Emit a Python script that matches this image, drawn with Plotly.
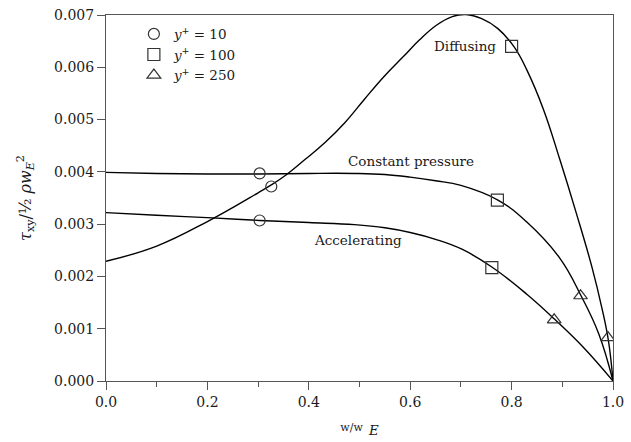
import plotly.graph_objects as go

# Curves
diff_x = [0.0, 0.1, 0.2, 0.3, 0.326, 0.355, 0.393, 0.432, 0.471, 0.509, 0.548, 0.586, 0.618, 0.651, 0.683, 0.71, 0.741, 0.773, 0.805, 0.830, 0.863, 0.895, 0.927, 0.959, 0.978, 0.991, 1.0]
diff_y = [0.00229, 0.00258, 0.00305, 0.0036, 0.00375, 0.00394, 0.00424, 0.00456, 0.00494, 0.00538, 0.00582, 0.0062, 0.00652, 0.0068, 0.00697, 0.00701, 0.00693, 0.00674, 0.00639, 0.00595, 0.00519, 0.00424, 0.00323, 0.00216, 0.0014, 0.00077, 0.0]

cp_x = [0.0, 0.1, 0.2, 0.3, 0.4, 0.49, 0.55, 0.6, 0.65, 0.70, 0.773, 0.830, 0.895, 0.937, 0.972, 1.0]
cp_y = [0.00399, 0.00397, 0.00396, 0.00396, 0.00397, 0.00397, 0.00395, 0.0039, 0.00383, 0.00374, 0.00346, 0.00304, 0.00235, 0.00163, 0.0009, 0.0]

acc_x = [0.0, 0.1, 0.21, 0.303, 0.4, 0.49, 0.55, 0.6, 0.65, 0.702, 0.761, 0.830, 0.885, 0.94, 1.0]
acc_y = [0.00322, 0.00317, 0.00312, 0.00307, 0.00303, 0.00299, 0.00293, 0.00284, 0.00271, 0.00252, 0.00218, 0.00166, 0.00118, 0.00066, 0.0]

# Markers
circ_x = [0.303, 0.326, 0.303]
circ_y = [0.00397, 0.00372, 0.00307]
sq_x = [0.800, 0.772, 0.761]
sq_y = [0.00640, 0.00346, 0.00217]
tri_x = [0.936, 0.884, 0.990]
tri_y = [0.00163, 0.00117, 0.00083]

legend_names = ["<i>y</i><sup>+</sup> = 10", "<i>y</i><sup>+</sup> = 100", "<i>y</i><sup>+</sup> = 250"]

# Curve labels
label_text = ["Diffusing", "Constant pressure", "Accelerating"]
label_x = [0.708, 0.602, 0.497]
label_y = [0.00641, 0.00421, 0.00270]

FONT = "DejaVu Serif"
INK = "#1a1a1a"

fig = go.Figure()
for xs, ys in [(diff_x, diff_y), (cp_x, cp_y), (acc_x, acc_y)]:
    fig.add_trace(go.Scatter(x=xs, y=ys, mode="lines", showlegend=False,
                             line=dict(color="black", width=1.4, shape="spline", smoothing=1.2)))

for xs, ys, sym, sz, name in [(circ_x, circ_y, "circle-open", 11, legend_names[0]),
                              (sq_x, sq_y, "square-open", 12, legend_names[1]),
                              (tri_x, tri_y, "triangle-up-open", 12, legend_names[2])]:
    fig.add_trace(go.Scatter(x=xs, y=ys, mode="markers", name=name,
                             marker=dict(symbol=sym, size=sz, color="#333333", line=dict(width=1.2, color="#333333"))))

for t, x, y in zip(label_text, label_x, label_y):
    fig.add_annotation(x=x, y=y, text=t, showarrow=False, xanchor="center", yanchor="middle",
                       font=dict(family=FONT, size=13.5, color=INK))

fig.update_layout(
    width=631, height=442,
    margin=dict(l=106, r=7, t=11, b=61),
    paper_bgcolor="white", plot_bgcolor="white",
    font=dict(family=FONT, size=14, color=INK),
    legend=dict(x=0.055, y=0.99, xanchor="left", yanchor="top", bgcolor="rgba(0,0,0,0)",
                font=dict(family=FONT, size=13.5, color=INK), itemwidth=30, tracegroupgap=0),
)
fig.update_xaxes(range=[0, 1.0], tickvals=[0, 0.2, 0.4, 0.6, 0.8, 1.0],
                 ticktext=["0.0", "0.2", "0.4", "0.6", "0.8", "1.0"],
                 ticks="outside", ticklen=8, tickcolor="#555", tickwidth=1, ticklabeloverflow="allow",
                 minor=dict(tickvals=[0.1, 0.3, 0.5, 0.7, 0.9], ticks="outside", ticklen=5, tickcolor="#555"),
                 showline=True, linecolor="#555", linewidth=1, mirror=True,
                 showgrid=False, zeroline=False,
                 title=dict(text="<span style='font-size:11px'>w/w</span> <sub><i>E</i></sub>",
                            font=dict(family=FONT, size=19, color=INK), standoff=8))
fig.update_yaxes(range=[0, 0.007], tickvals=[0, 0.001, 0.002, 0.003, 0.004, 0.005, 0.006, 0.007],
                 ticktext=["0.000", "0.001", "0.002", "0.003", "0.004", "0.005", "0.006", "0.007"],
                 ticks="outside", ticklen=8, tickcolor="#555", tickwidth=1,
                 showline=True, linecolor="#555", linewidth=1, mirror=True,
                 showgrid=False, zeroline=False,
                 title=dict(text="<i>τ</i><sub>xy</sub>/½ <i>ρw</i><sub><i>E</i></sub><sup>2</sup>",
                            font=dict(family=FONT, size=16, color=INK), standoff=18))

fig.write_html("out.html")
